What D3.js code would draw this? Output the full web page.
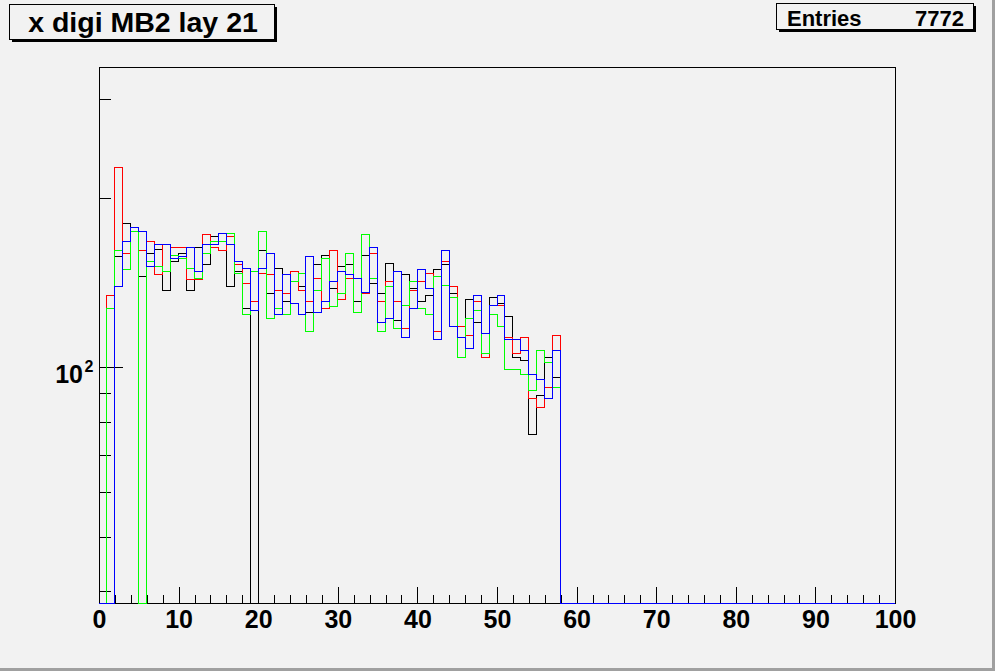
<!DOCTYPE html>
<html><head><meta charset="utf-8">
<script src="https://cdn.jsdelivr.net/npm/d3@7"></script>
<style>
html,body{margin:0;padding:0;background:#f2f2f2;}
svg{display:block;}
text{font-family:"Liberation Sans",Arial,Helvetica,sans-serif;font-weight:bold;fill:#000;}
</style></head>
<body>
<svg id="c" width="995" height="671"></svg>
<script>
// ---- data (bin contents, bins of width 1 from 0 to 100; bins >= 58 are empty) ----
const red   = [0,134,226,159,174,161,167,146,165,163,163,143,143,172,163,161,171,152,141,131,147,146,137,135,148,137,131,144,127,161,132,144,144,135,159,131,142,131,117,137,142,147,116,154,139,118,114,131,104,129,129,113,106,113,88,85,92,114];
const green = [0,127,161,149,174,0,154,151,148,158,156,150,144,159,167,167,173,147,124,148,174,122,127,124,142,147,116,137,156,128,135,159,125,172,144,116,139,117,129,142,127,124,145,140,133,104,122,126,106,124,118,99,99,97,91,107,102,92];
const blue  = [0,0,139,167,177,174,151,165,165,156,157,163,148,165,165,173,165,154,150,126,150,159,124,146,130,124,157,125,131,142,148,146,144,136,163,120,122,148,113,127,149,138,112,161,118,113,108,134,115,129,134,112,112,107,97,95,88,107];
const black = [0,0,157,180,177,145,159,162,137,154,159,137,163,152,171,173,139,148,127,0,161,135,150,131,142,139,125,152,158,138,151,152,131,158,141,135,153,121,146,138,131,134,149,152,135,118,132,120,115,133,130,123,104,103,76,89,104,96];
const xTickLabels = ["0","10","20","30","40","50","60","70","80","90","100"];
const yMinorTicks = [40,50,60,70,80,90,200,300];
const yMajorTicks = [100];
const title = "x digi MB2 lay 21";
const entries = 7772;
const nBins = 100;

const svg = d3.select("#c");
const W = 995, H = 671;
const L = 99, R = 895, T = 67.3, B = 603;

// canvas
svg.append("rect").attr("x",0).attr("y",0).attr("width",W).attr("height",H).attr("fill","#f2f2f2");
svg.append("rect").attr("x",992).attr("y",0).attr("width",3).attr("height",H).attr("fill","#a0a0a0");
svg.append("rect").attr("x",0).attr("y",668).attr("width",W).attr("height",3).attr("fill","#a0a0a0");

const x = d3.scaleLinear().domain([0,100]).range([L,R]);
const y = d3.scaleLog().domain([38.15,341]).range([B,T]);

// frame
svg.append("rect").attr("x",L+0.5).attr("y",T).attr("width",R-L).attr("height",B-T)
  .attr("fill","none").attr("stroke","#000").attr("stroke-width",1).attr("shape-rendering","crispEdges");

// x axis minor
const gxMinor = svg.append("g").attr("transform",`translate(0,${B})`)
  .call(d3.axisBottom(x).tickValues(d3.range(0,101,2)).tickSizeInner(-8).tickSizeOuter(0).tickFormat(""));
// x axis major
const gxMajor = svg.append("g").attr("transform",`translate(0,${B})`)
  .call(d3.axisBottom(x).tickValues(xTickLabels.map(Number)).tickSizeInner(-16).tickSizeOuter(0).tickPadding(7)
     .tickFormat((d,i)=>xTickLabels[i]));
// y axis
const gyMinor = svg.append("g").attr("transform",`translate(${L},0)`)
  .call(d3.axisLeft(y).tickValues(yMinorTicks).tickSizeInner(-12).tickSizeOuter(0).tickFormat(""));
const gyMajor = svg.append("g").attr("transform",`translate(${L},0)`)
  .call(d3.axisLeft(y).tickValues(yMajorTicks).tickSizeInner(-24).tickSizeOuter(0).tickFormat(""));
[gxMinor,gxMajor,gyMinor,gyMajor].forEach(g=>{
  g.select(".domain").remove();
  g.selectAll(".tick line").attr("stroke","#000").attr("shape-rendering","crispEdges");
});
gxMajor.selectAll(".tick text").attr("font-size",25).attr("font-family",'"Liberation Sans",Arial,sans-serif').attr("font-weight","bold");

// y label 10^2
svg.append("text").attr("x",83).attr("y",y(100)+16).attr("text-anchor","end").attr("font-size",25).text("10");
svg.append("text").attr("x",84.5).attr("y",y(100)+4.5).attr("font-size",16).text("2");

// histograms
function histPath(vals){
  const pts = [[x(0),B]];
  for(let i=0;i<nBins;i++){
    const v = i<vals.length ? vals[i] : 0;
    const yy = v>y.domain()[0] ? y(v) : B;
    pts.push([x(i),yy]);
  }
  const lastV = pts[pts.length-1][1];
  pts.push([x(nBins),lastV]);
  pts.push([x(nBins),B]);
  return d3.line().curve(d3.curveStepAfter)(pts);
}
svg.append("clipPath").attr("id","fr").append("rect").attr("x",L).attr("y",T).attr("width",R-L+1).attr("height",B-T+1);
const series = [{v:black,c:"#000000"},{v:red,c:"#ff0000"},{v:green,c:"#00ff00"},{v:blue,c:"#0000ff"}];
const hg = svg.append("g").attr("clip-path","url(#fr)");
series.forEach(s=>{
  hg.append("path").attr("d",histPath(s.v)).attr("fill","none").attr("stroke",s.c)
    .attr("stroke-width",1).attr("shape-rendering","crispEdges");
});

// title box
svg.append("rect").attr("x",12).attr("y",7).attr("width",265).attr("height",35).attr("fill","#000");
svg.append("rect").attr("x",9.5).attr("y",4.5).attr("width",265).attr("height",35).attr("fill","#f2f2f2").attr("stroke","#000");
svg.append("text").attr("x",143).attr("y",32).attr("text-anchor","middle").attr("font-size",28.5).text(title);

// stats box
svg.append("rect").attr("x",779).attr("y",6).attr("width",197).attr("height",26).attr("fill","#000");
svg.append("rect").attr("x",776.5).attr("y",3.5).attr("width",197).attr("height",26).attr("fill","#f2f2f2").attr("stroke","#000");
svg.append("text").attr("x",787).attr("y",26).attr("font-size",22).text("Entries");
svg.append("text").attr("x",964).attr("y",26).attr("text-anchor","end").attr("font-size",22).text(String(entries));
</script>
</body></html>
